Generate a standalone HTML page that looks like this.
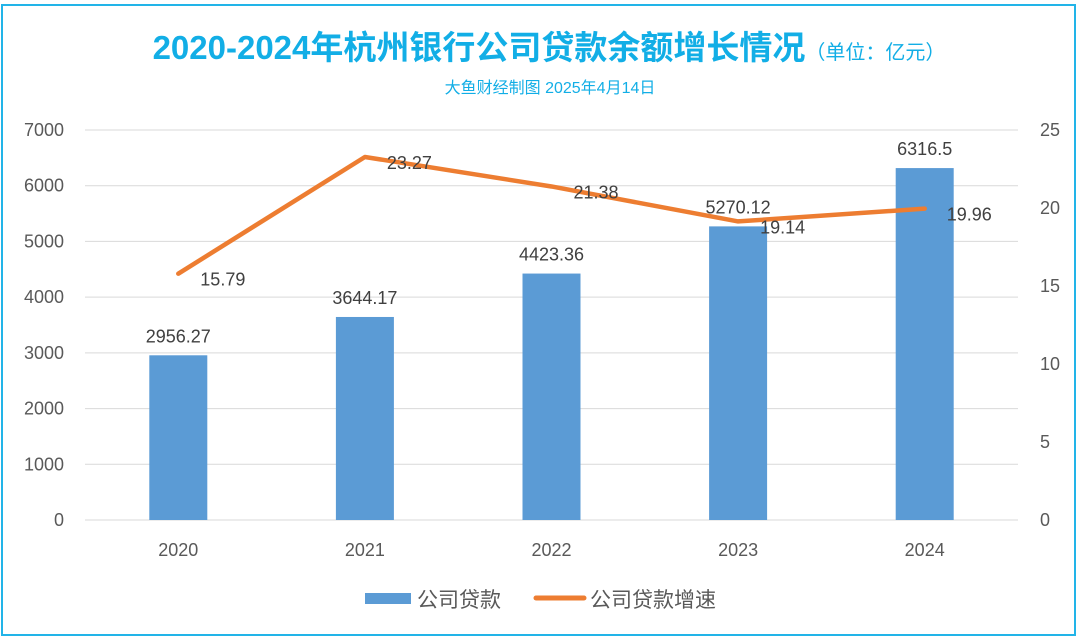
<!DOCTYPE html>
<html><head><meta charset="utf-8"><style>
html,body{margin:0;padding:0;background:#fff;}
svg{display:block;font-family:"Liberation Sans","Noto Sans CJK SC",sans-serif;}
</style></head><body>
<svg id="chart" width="1080" height="638" viewBox="0 0 1080 638">
<rect x="2" y="5" width="1073" height="630" fill="#fff" stroke="#22b4e8" stroke-width="2"/>
<text x="549" y="59" text-anchor="middle" fill="#12aee6" font-size="33" font-weight="bold">2020-2024年杭州银行公司贷款余额增长情况<tspan font-size="20" font-weight="normal">（单位：亿元）</tspan></text>
<text x="550" y="93" text-anchor="middle" fill="#12aee6" font-size="16">大鱼财经制图 2025年4月14日</text>
<g id="grid"></g><g id="bars"></g><g id="line"></g><g id="labels"></g>
<g>
<rect x="365" y="593" width="46" height="11" fill="#5b9bd5"/>
<text x="417" y="607" font-size="21" fill="#595959">公司贷款</text>
<line x1="536" y1="598" x2="584" y2="598" stroke="#ed7d31" stroke-width="5" stroke-linecap="round"/>
<text x="590" y="607" font-size="21" fill="#595959">公司贷款增速</text>
</g>
</svg>
<script>
const categories=["2020","2021","2022","2023","2024"];
const loans=[2956.27,3644.17,4423.36,5270.12,6316.5];
const growth=[15.79,23.27,21.38,19.14,19.96];
const leftTicks=[0,1000,2000,3000,4000,5000,6000,7000];
const rightTicks=[0,5,10,15,20,25];
const NS="http://www.w3.org/2000/svg";
const x0=85,x1=1018,yb=520,yt=130;
const yL=v=>yb-(v/7000)*(yb-yt);
const yR=v=>yb-(v/25)*(yb-yt);
const xC=i=>x0+(i+0.5)*(x1-x0)/categories.length;
function mk(tag,attrs,parent,text){const e=document.createElementNS(NS,tag);for(const k in attrs)e.setAttribute(k,attrs[k]);if(text!=null)e.textContent=text;document.getElementById(parent).appendChild(e);return e;}
leftTicks.forEach(t=>{
 const l=mk('line',{x1:x0,x2:x1,y1:yL(t),y2:yL(t),stroke:'#d9d9d9','stroke-width':1},'grid');
 
 
 const tx=mk('text',{x:64,y:yL(t)+6,'text-anchor':'end','font-size':18,fill:'#595959'},'grid',String(t));
 
 
});
rightTicks.forEach(t=>{
 const tx=mk('text',{x:1040,y:yR(t)+6,'text-anchor':'start','font-size':18,fill:'#595959'},'grid',String(t));
 
 
});
categories.forEach((c,i)=>{
 const tx=mk('text',{x:xC(i),y:556,'text-anchor':'middle','font-size':18,fill:'#595959'},'grid',c);
 
 
 const b=mk('rect',{x:xC(i)-29,y:yL(loans[i]),width:58,height:yb-yL(loans[i]),fill:'#5b9bd5'},'bars');
 
 
 const bl=mk('text',{x:xC(i),y:yL(loans[i])-13,'text-anchor':'middle','font-size':18,fill:'#404040'},'labels',String(loans[i]));
 
 
 const ll=mk('text',{x:xC(i)+22,y:yR(growth[i])+12,'text-anchor':'start','font-size':18,fill:'#404040'},'labels',growth[i].toFixed(2));
 
 
});
const pts=growth.map((g,i)=>xC(i)+','+yR(g)).join(' ');
const pl=mk('polyline',{points:pts,fill:'none',stroke:'#ed7d31','stroke-width':4.5,'stroke-linejoin':'round','stroke-linecap':'round'},'line');


</script>
</body></html>
